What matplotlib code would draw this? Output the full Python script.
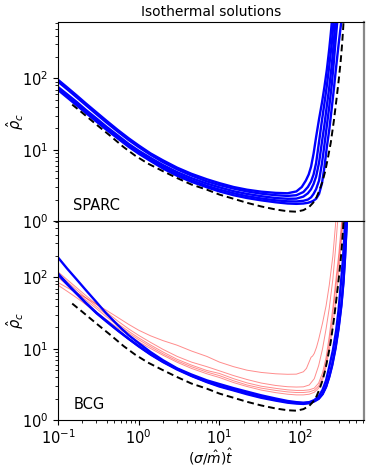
import numpy as np
import matplotlib
matplotlib.use("Agg")
import matplotlib.pyplot as plt

# ---------------- data ----------------
# black dashed reference curve (same in both panels)
dash_x = [0.15, 0.2, 0.3, 0.45, 0.65, 0.9, 1.3, 2, 3, 4.5, 7, 10, 15, 22, 33, 50, 70, 90,
          110, 130, 145, 160, 175, 190, 205, 222, 240, 263, 285, 302, 318, 330, 340, 348]
dash_y = [43, 33, 22.5, 15.5, 10.9, 8.3, 6.4, 5.0, 4.0, 3.25, 2.75, 2.35, 2.05, 1.8, 1.6, 1.45, 1.37, 1.35,
          1.42, 1.58, 1.8, 2.15, 2.75, 3.6, 5.0, 7.8, 12.5, 26, 55, 97, 170, 280, 450, 700]

# top panel (SPARC): five blue curves
sp_x = [0.1, 0.13, 0.17, 0.22, 0.3, 0.4, 0.55, 0.75, 1, 1.4, 2, 3, 4.5, 7, 10, 15, 22, 33, 50, 70, 90]
sp_A_y = [96, 75, 58, 45, 33.5, 25.5, 19, 14.5, 11.5, 8.9, 7.1, 5.6, 4.6, 3.85, 3.4, 3.0, 2.75, 2.58, 2.48, 2.45, 2.6]
sp_B_y = [90, 70.5, 54.5, 42.5, 31.5, 24, 18, 13.7, 10.9, 8.5, 6.7, 5.3, 4.35, 3.6, 3.2, 2.85, 2.6, 2.42, 2.3, 2.25, 2.3]
sp_C_y = [76, 60, 47, 36.5, 27.5, 21, 15.9, 12.1, 9.7, 7.7, 6.1, 4.85, 4.0, 3.35, 2.97, 2.62, 2.4, 2.23, 2.1, 2.05, 2.06]
sp_D_y = [72, 56.5, 44, 34.5, 26, 20, 15.1, 11.5, 9.2, 7.3, 5.75, 4.55, 3.75, 3.12, 2.76, 2.45, 2.23, 2.07, 1.95, 1.89, 1.88]
sp_E_y = [69, 54, 42, 33, 24.8, 19, 14.4, 11, 8.8, 6.95, 5.45, 4.3, 3.55, 2.97, 2.6, 2.3, 2.1, 1.95, 1.83, 1.76, 1.74]
# rising branches (x beyond 90)
sp_A_rx = [105, 118, 128, 137, 147, 158, 172, 187, 200, 215, 230, 240, 250]
sp_A_ry = [3.0, 3.7, 4.5, 5.8, 8.8, 15, 27, 46, 75, 134, 260, 420, 700]
sp_B_rx = [110, 125, 137, 147, 158, 172, 187, 200, 215, 230, 248, 262]
sp_B_ry = [2.55, 3.0, 3.6, 4.5, 6.5, 13, 26, 44, 80, 150, 320, 700]
sp_C_rx = [110, 125, 137, 147, 158, 172, 187, 200, 215, 230, 248, 262, 275]
sp_C_ry = [2.2, 2.45, 2.8, 3.3, 4.2, 6.6, 13, 22, 42, 75, 160, 330, 650]
sp_D_rx = [110, 125, 137, 147, 158, 172, 187, 200, 215, 230, 248, 262, 275, 290]
sp_D_ry = [1.92, 2.0, 2.15, 2.4, 2.8, 3.7, 6.5, 11.5, 22, 40, 85, 170, 330, 650]
sp_E_rx = [110, 125, 137, 147, 158, 172, 187, 200, 215, 230, 248, 262, 275, 290, 305, 320, 335]
sp_E_ry = [1.76, 1.8, 1.86, 1.93, 2.05, 2.4, 3.4, 5.6, 11, 19, 40, 70, 120, 210, 350, 550, 850]

# bottom panel (BCG): three blue curves
bc_x = [0.1, 0.13, 0.17, 0.22, 0.3, 0.4, 0.55, 0.75, 1, 1.4, 2, 3, 4.5, 7, 10, 15, 22, 33, 50, 70,
        90, 110, 130, 150, 170, 190, 210, 230, 255, 280, 300, 320, 340, 355, 365]
bc_b1_y = [191, 133, 94, 67, 45, 31, 21.5, 15.5, 12.0, 9.0, 6.9, 5.3, 4.35, 3.6, 3.2, 2.8, 2.5, 2.22, 2.0, 1.85,
           1.78, 1.75, 1.78, 1.9, 2.15, 2.65, 3.6, 5.6, 9.5, 18, 35, 80, 180, 400, 800]
bc_b2_x = [0.1, 0.13, 0.17, 0.22, 0.3, 0.4, 0.55, 0.75, 1, 1.4, 2, 3, 4.5, 7, 10, 15, 22, 33, 50, 70,
           90, 110, 130, 150, 170, 190, 210, 230, 250, 275, 300, 325, 345, 360, 372, 385]
bc_b2_y = [114, 82, 60, 44.5, 32, 24.5, 18.2, 13.8, 10.8, 8.3, 6.5, 5.1, 4.15, 3.4, 2.95, 2.6, 2.3, 2.05, 1.87, 1.75,
           1.7, 1.68, 1.72, 1.82, 1.98, 2.3, 2.9, 4.0, 5.8, 10, 19, 40, 85, 180, 380, 800]
bc_b3_y = [110, 80, 59, 44, 31.5, 24, 18, 13.8, 10.9, 8.4, 6.6, 5.2, 4.2, 3.45, 3.02, 2.66, 2.36, 2.1, 1.92, 1.8,
           1.74, 1.72, 1.75, 1.85, 2.0, 2.32, 2.95, 4.1, 6.0, 10.5, 20, 42, 90, 190, 400, 850]

# bottom panel (BCG): five red curves
rd_x = [0.1, 0.13, 0.17, 0.22, 0.3, 0.4, 0.55, 0.75, 1, 1.4, 2, 3, 4.5, 7, 10, 15, 22, 33, 50, 70, 90]
bc_r1_y = [85, 72, 61, 52, 42, 34.5, 27.5, 22, 18.2, 15.2, 13, 11.2, 9.3, 7.8, 6.5, 5.6, 5.0, 4.65, 4.45, 4.38, 4.4]
bc_r2_y = [120, 93, 72, 56, 42, 32.5, 24.5, 19, 15.4, 12.3, 9.8, 7.8, 6.5, 5.6, 4.9, 4.2, 3.7, 3.3, 3.05, 2.93, 2.9]
bc_r3_y = [112, 87, 67, 52, 39, 30, 22.5, 17.6, 14.2, 11.3, 9.0, 7.1, 5.9, 4.95, 4.5, 3.8, 3.32, 2.98, 2.78, 2.65, 2.6]
bc_r4_y = [100, 79, 62, 48.5, 36.5, 28, 21.2, 16.6, 13.4, 10.7, 8.5, 6.75, 5.6, 4.7, 4.2, 3.55, 3.1, 2.8, 2.6, 2.48, 2.43]
bc_r5_y = [78, 64, 52, 42, 32.5, 25.5, 19.6, 15.5, 12.5, 10.1, 8.1, 6.45, 5.3, 4.45, 3.95, 3.35, 2.95, 2.63, 2.42, 2.3, 2.25]
bc_r1_rx = [110, 120, 130, 137, 143, 150, 160, 170, 190, 210, 230, 255, 280]
bc_r1_ry = [4.75, 5.3, 6.6, 7.6, 7.9, 8.6, 10.5, 13.5, 23, 40, 78, 200, 700]
bc_r2_rx = [110, 130, 150, 170, 190, 210, 230, 255, 275, 290, 300]
bc_r2_ry = [2.92, 3.1, 3.8, 5.8, 10, 19, 37, 95, 250, 550, 800]
bc_r3_rx = [110, 130, 150, 170, 190, 210, 230, 255, 280, 300, 320, 335]
bc_r3_ry = [2.6, 2.65, 2.8, 3.3, 4.6, 7.5, 15, 38, 100, 200, 450, 800]
bc_r4_rx = [110, 130, 150, 170, 190, 210, 230, 255, 280, 300, 320, 340]
bc_r4_ry = [2.43, 2.48, 2.62, 3.0, 4.0, 6.4, 12, 30, 80, 160, 350, 750]
bc_r5_rx = [110, 130, 150, 170, 190, 210, 230, 255, 280, 300, 320, 340]
bc_r5_ry = [2.25, 2.3, 2.45, 2.8, 3.6, 5.6, 9.5, 21, 50, 110, 250, 600]

title = "Isothermal solutions"
labels = ["SPARC", "BCG"]
xlim = (0.1, 620)
ylim = (1, 620)

# ---------------- figure ----------------
fig = plt.figure(figsize=(3.74, 4.68), dpi=100)
L, W = 58 / 374, (364 - 58) / 374
ax1 = fig.add_axes([L, 1 - 221 / 468, W, 199 / 468])
ax2 = fig.add_axes([L, 1 - 420 / 468, W, 199 / 468])

blue_kw = dict(color="blue", lw=1.7)
red_kw = dict(color="red", lw=0.7, alpha=0.45)
dash_kw = dict(color="black", lw=1.4, ls=(0, (3.5, 2)))

for ys, rx, ry in [(sp_A_y, sp_A_rx, sp_A_ry), (sp_B_y, sp_B_rx, sp_B_ry),
                   (sp_C_y, sp_C_rx, sp_C_ry), (sp_D_y, sp_D_rx, sp_D_ry),
                   (sp_E_y, sp_E_rx, sp_E_ry)]:
    ax1.plot(sp_x + rx, ys + ry, **blue_kw)
ax1.plot(dash_x, dash_y, **dash_kw)

for ys, rx, ry in [(bc_r1_y, bc_r1_rx, bc_r1_ry), (bc_r2_y, bc_r2_rx, bc_r2_ry),
                   (bc_r3_y, bc_r3_rx, bc_r3_ry), (bc_r4_y, bc_r4_rx, bc_r4_ry),
                   (bc_r5_y, bc_r5_rx, bc_r5_ry)]:
    ax2.plot(rd_x + rx, ys + ry, **red_kw)
ax2.plot(bc_x, bc_b1_y, **blue_kw)
ax2.plot(bc_b2_x, bc_b2_y, **blue_kw)
ax2.plot(bc_b2_x, bc_b3_y, **blue_kw)
ax2.plot(dash_x, dash_y, **dash_kw)

for ax, lab in zip([ax1, ax2], labels):
    ax.set_xscale("log")
    ax.set_yscale("log")
    ax.set_xlim(*xlim)
    ax.set_ylim(*ylim)
    ax.set_ylabel(r"$\hat{\rho}_c$", fontsize=10.5)
    ax.yaxis.set_label_coords(-0.105, 0.5)
    ax.tick_params(labelsize=10.5)
    ax.tick_params(axis="x", pad=2.5)
    ax.text(0.05, 0.055, lab, transform=ax.transAxes, fontsize=10.5)
    ax.spines["right"].set_color("#888888")
    ax.spines["right"].set_linewidth(1.6)

ax1.tick_params(axis="x", which="both", labelbottom=False)
ax1.set_title(title, fontsize=10, pad=4)
ax2.set_xlabel(r"$(\sigma/\hat{m})\hat{t}$", fontsize=10)
ax2.xaxis.set_label_coords(0.5, -0.132)

fig.savefig("out.png", dpi=100)
